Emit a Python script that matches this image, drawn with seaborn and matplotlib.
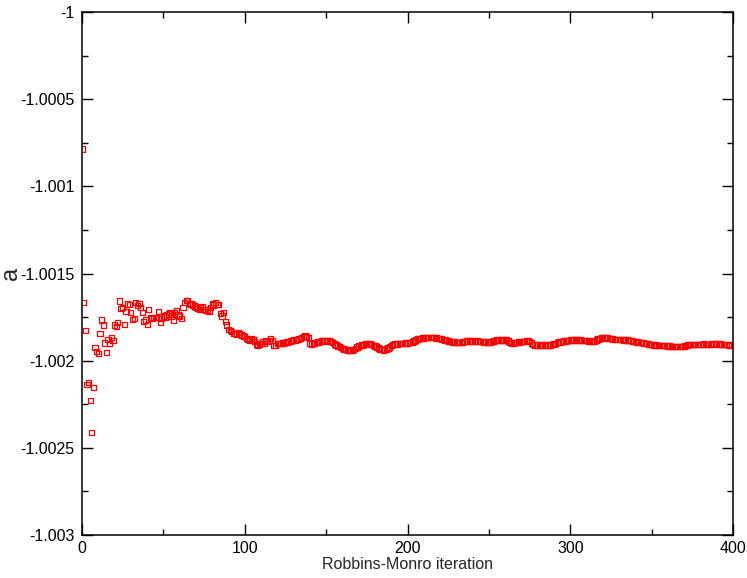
import numpy as np
import matplotlib
matplotlib.use('Agg')
import matplotlib.pyplot as plt
import seaborn as sns
from matplotlib.ticker import MultipleLocator, FuncFormatter

# distance below -1 of the parameter a, in units of 1e-6
a_below_ppm = [
    786, 1665, 1826, 2136, 2126, 2227, 2413, 2155, 1926, 1949,
    1958, 1844, 1767, 1795, 1899, 1954, 1877, 1902, 1865, 1886,
    1795, 1803, 1779, 1658, 1702, 1696, 1794, 1719, 1675, 1680,
    1725, 1763, 1760, 1666, 1685, 1671, 1696, 1723, 1777, 1767,
    1794, 1708, 1752, 1760, 1752, 1752, 1751, 1719, 1782, 1759,
    1744, 1750, 1738, 1732, 1725, 1744, 1767, 1727, 1715, 1738,
    1744, 1757, 1696, 1668, 1656, 1656, 1671, 1675, 1681, 1686,
    1692, 1700, 1705, 1694, 1690, 1705, 1709, 1709, 1719, 1694,
    1675, 1681, 1665, 1679, 1679, 1728, 1744, 1723, 1777, 1795,
    1820, 1828, 1834, 1843, 1845, 1847, 1840, 1847, 1853, 1859,
    1863, 1872, 1877, 1886, 1874, 1881, 1891, 1904, 1910, 1904,
    1900, 1891, 1900, 1886, 1891, 1886, 1872, 1886, 1912, 1912,
    1900, 1900, 1902, 1899, 1899, 1896, 1893, 1890, 1887, 1884,
    1881, 1881, 1879, 1876, 1873, 1867, 1861, 1858, 1861, 1867,
    1902, 1904, 1902, 1899, 1896, 1893, 1890, 1887, 1885, 1884,
    1884, 1887, 1887, 1890, 1896, 1904, 1910, 1916, 1920, 1924,
    1929, 1933, 1936, 1939, 1942, 1943, 1942, 1936, 1930, 1922,
    1916, 1913, 1910, 1907, 1904, 1902, 1900, 1904, 1907, 1913,
    1916, 1922, 1927, 1933, 1936, 1939, 1936, 1933, 1927, 1922,
    1913, 1907, 1904, 1904, 1904, 1902, 1902, 1900, 1902, 1899,
    1899, 1896, 1897, 1893, 1887, 1881, 1876, 1873, 1873, 1870,
    1870, 1867, 1867, 1867, 1867, 1868, 1867, 1869, 1870, 1872,
    1873, 1876, 1879, 1881, 1885, 1887, 1890, 1890, 1893, 1893,
    1896, 1896, 1897, 1896, 1893, 1890, 1887, 1887, 1887, 1887,
    1890, 1890, 1887, 1887, 1888, 1890, 1890, 1893, 1893, 1893,
    1894, 1893, 1890, 1887, 1884, 1881, 1881, 1881, 1881, 1883,
    1881, 1881, 1887, 1896, 1900, 1899, 1896, 1896, 1893, 1893,
    1891, 1891, 1888, 1885, 1885, 1890, 1899, 1907, 1910, 1910,
    1910, 1911, 1910, 1910, 1912, 1910, 1910, 1910, 1910, 1907,
    1904, 1902, 1896, 1893, 1893, 1890, 1887, 1887, 1884, 1884,
    1881, 1881, 1881, 1880, 1881, 1881, 1881, 1883, 1884, 1885,
    1885, 1887, 1888, 1890, 1891, 1887, 1881, 1876, 1873, 1870,
    1870, 1868, 1868, 1870, 1873, 1874, 1876, 1877, 1877, 1877,
    1879, 1879, 1880, 1881, 1881, 1881, 1883, 1884, 1887, 1889,
    1891, 1893, 1895, 1895, 1897, 1899, 1900, 1903, 1904, 1906,
    1908, 1910, 1910, 1911, 1912, 1912, 1913, 1913, 1914, 1914,
    1916, 1916, 1917, 1918, 1919, 1919, 1920, 1920, 1919, 1918,
    1916, 1913, 1910, 1908, 1907, 1906, 1906, 1906, 1907, 1907,
    1906, 1906, 1904, 1906, 1906, 1907, 1906, 1904, 1903, 1903,
    1904, 1904, 1904, 1906, 1907, 1907, 1908, 1910, 1910, 1912,
]

iteration = np.arange(len(a_below_ppm))
a_values = -1.0 - np.array(a_below_ppm) * 1e-6

x_ticks = [0, 100, 200, 300, 400]
y_ticks = [-1.003, -1.0025, -1.002, -1.0015, -1.001, -1.0005, -1.0]

sns.set_style('ticks')
plt.rcParams['font.family'] = ['Liberation Sans', 'DejaVu Sans']

fig = plt.figure(figsize=(7.47, 5.78), dpi=100)
ax = fig.add_axes([0.1098, 0.0744, 0.8715, 0.9048])

sns.scatterplot(x=iteration, y=a_values, marker='s', s=14, color='red',
                linewidth=0.9, ax=ax, legend=False)
pts = ax.collections[0]
pts.set_facecolor('none')
pts.set_edgecolor('red')

ax.set_xlim(0, 400)
ax.set_ylim(-1.003, -1.0)
ax.set_xticks(x_ticks)
ax.set_yticks(y_ticks)
ax.xaxis.set_minor_locator(MultipleLocator(50))
ax.yaxis.set_minor_locator(MultipleLocator(0.00025))
ax.yaxis.set_major_formatter(FuncFormatter(lambda v, p: '{:g}'.format(round(v, 6))))

ax.tick_params(which='both', direction='in', top=True, right=True,
               colors='black', labelsize=11.5, width=1.0)
ax.tick_params(which='major', length=8)
ax.tick_params(which='minor', length=4.5)
ax.tick_params(axis='y', pad=5.5)
ax.tick_params(axis='x', pad=4)
for sp in ax.spines.values():
    sp.set_linewidth(1.1)
    sp.set_color('black')

ax.set_xlabel('Robbins-Monro iteration', fontsize=11.5, labelpad=1)
ax.set_ylabel('a', fontsize=17)
ax.yaxis.set_label_coords(-0.092, 0.5)

fig.savefig('out.png', dpi=100)
